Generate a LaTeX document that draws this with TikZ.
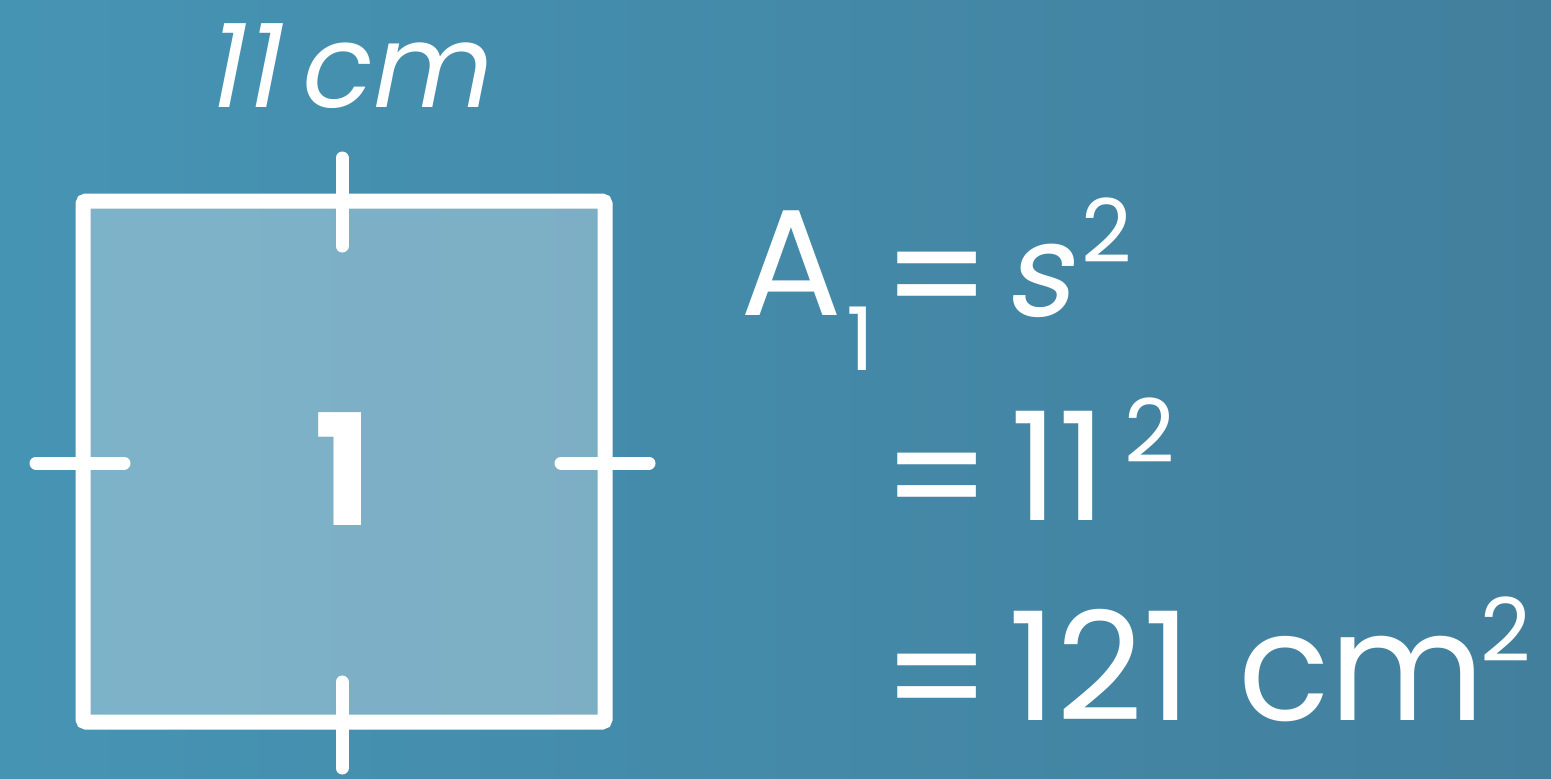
\documentclass[tikz,border=0pt]{standalone}
\usepackage{fontspec}
\setmainfont{Poppins}
\newfontfamily\slfont[FakeSlant=0.2]{Poppins}
\begin{document}
\begin{tikzpicture}[x=0.1mm,y=-0.1mm,
  txt/.style={text=white,inner sep=0pt,outer sep=0pt},
  big/.style={txt,font=\fontsize{43pt}{50pt}\selectfont},
  small/.style={txt,font=\fontsize{25pt}{30pt}\selectfont},
  edge/.style={draw=white,line width=1.5mm},
  tick/.style={draw=white,line width=1.3mm,line cap=round}]
\shade[left color={rgb,255:red,70;green,148;blue,180},right color={rgb,255:red,66;green,127;blue,157}] (0,0) rectangle (1551,778);
\useasboundingbox (0,0) rectangle (1551,778);
\coordinate (sqa) at (83,201);
\coordinate (sqb) at (605,722);
\fill[white,fill opacity=0.3] (sqa) rectangle (sqb);
\draw[edge,rounded corners=0.3mm] (sqa) rectangle (sqb);
\coordinate (t1) at (342,158); \coordinate (t2) at (342,246);
\coordinate (b1) at (342,682); \coordinate (b2) at (342,768);
\coordinate (l1) at (36,463); \coordinate (l2) at (124,463);
\coordinate (r1) at (561,463); \coordinate (r2) at (649,463);
\draw[tick] (t1) -- (t2);
\draw[tick] (b1) -- (b2);
\draw[tick] (l1) -- (l2);
\draw[tick] (r1) -- (r2);
\node[txt,anchor=base,font=\slfont\fontsize{33pt}{40pt}\selectfont] (top) at (345,107) {11\,cm};
\node[txt,anchor=base,font=\bfseries\fontsize{44pt}{50pt}\selectfont] (num) at (344,525) {1};
% line 1
\node[big,anchor=base west] (A) at (740,315) {A};
\node[small,anchor=base west] (sub) at (846,370) {1};
\node[big,anchor=base west] (eq1) at (882,329) {=};
\node[big,anchor=base west,font=\slfont\fontsize{37pt}{44pt}\selectfont] (s) at (1003,316) {s};
\node[small,anchor=base west] (sup1) at (1081,262) {2};
% line 2
\node[big,anchor=base west] (eq2) at (882,530) {=};
\node[big,anchor=base west] (eleven) at (1010,520) {11};
\node[small,anchor=base west] (sup2) at (1124,462) {2};
% line 3
\node[big,anchor=base west] (eq3) at (882,731) {=};
\node[big,anchor=base west] (res) at (1008,720) {121};
\node[big,anchor=base west] (cm) at (1238,720) {cm};
\node[small,anchor=base west] (sup3) at (1480,661) {2};
\end{tikzpicture}
\end{document}
